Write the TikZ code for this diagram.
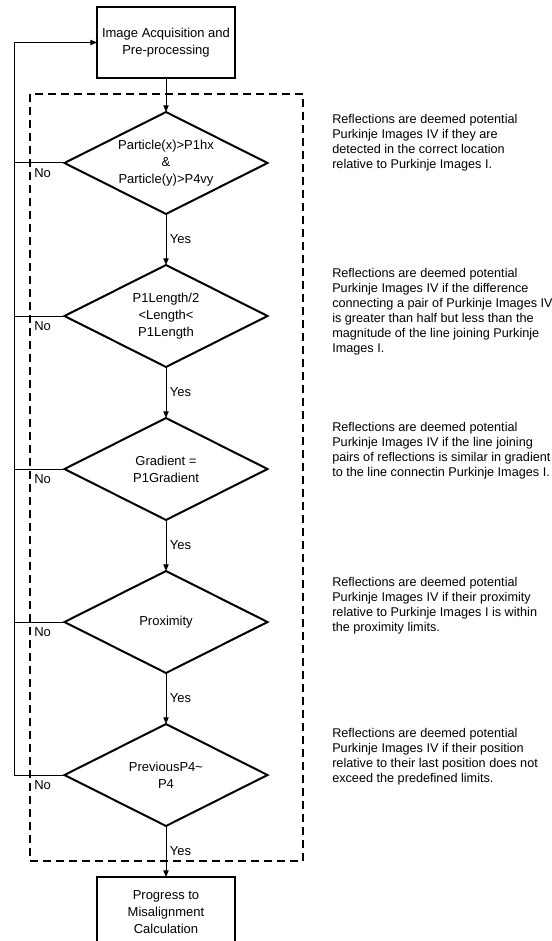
\documentclass[tikz,border=0pt]{standalone}
\usepackage{fontspec}
\setmainfont{Liberation Sans}
\usetikzlibrary{arrows.meta,positioning,calc,shapes.geometric}
\tikzset{
  procbox/.style={draw, line width=1.5pt, align=center, outer sep=0pt, inner sep=1pt,
    minimum width=103.5pt, minimum height=53.25pt, font=\fontsize{9.75}{12.75}\selectfont},
  testbox/.style={diamond, shape aspect=2, draw, line width=1.5pt, align=center, outer sep=0pt,
    inner sep=0pt, minimum width=152.25pt, minimum height=76.5pt,
    font=\fontsize{9.75}{12.75}\selectfont},
  note/.style={anchor=north west, align=left, inner sep=0pt,
    font=\fontsize{9.5}{11.25}\selectfont},
  yeslbl/.style={right, inner sep=2.5pt, font=\fontsize{9.75}{11}\selectfont},
  nolbl/.style={anchor=north west, inner sep=0pt, font=\fontsize{9.75}{11}\selectfont},
  link/.style={line width=0.75pt},
  flow/.style={line width=0.75pt, -{Triangle[length=5pt,width=4pt]}},
  dashframe/.style={line width=1.5pt, dash pattern=on 6pt off 3.75pt}
}
\begin{document}
\begin{tikzpicture}[x=0.75pt,y=-0.75pt]
  \useasboundingbox (0,0) rectangle (551,941);

  % checks on each candidate reflection
  \coordinate (fnw) at (30,94);
  \coordinate (fse) at (303,861);
  \draw[dashframe] (fnw) rectangle (fse);

  \node[procbox] (acq) at (166,42.5) {Image Acquisition and\\Pre-processing};
  \node[testbox] (t1) at (166,163) {Particle(x)>P1hx\\\&\\Particle(y)>P4vy};
  \node[testbox, below=38.25pt of t1] (t2) {P1Length/2\\<Length<\\P1Length};
  \node[testbox, below=38.25pt of t2] (t3) {Gradient =\\P1Gradient};
  \node[testbox, below=38.25pt of t3] (t4) {Proximity};
  \node[testbox, below=38.25pt of t4] (t5) {PreviousP4\textasciitilde\\P4};
  \node[procbox, below=38.25pt of t5] (misal) {Progress to\\Misalignment\\Calculation};

  \draw[flow] (acq) -- (t1);
  \foreach \a/\b in {t1/t2,t2/t3,t3/t4,t4/t5,t5/misal}
    \draw[flow] (\a) -- node[yeslbl] {Yes} (\b);

  % rejected reflections go back to the next frame
  \coordinate (back) at (14,0);
  \foreach \q in {t1,t2,t3,t4}
    \draw[link] (\q.west) -- (\q.west -| back);
  \draw[flow] (t5.west) -- (t5.west -| back) |- (acq.west);
  \foreach \q in {t1,t2,t3,t4,t5}
    \node[nolbl] at ($(\q.west -| fnw)+(4,5)$) {No};

  % explanations
  \node[note] (n1) at (332,114) {Reflections are deemed potential\\Purkinje Images IV if they are\\detected in the correct location\\relative to Purkinje Images I.};
  \node[note] (n2) at (332,268) {Reflections are deemed potential\\Purkinje Images IV if the difference\\connecting a pair of Purkinje Images IV\\is greater than half but less than the\\magnitude of the line joining Purkinje\\Images I.};
  \node[note] (n3) at (332,422) {Reflections are deemed potential\\Purkinje Images IV if the line joining\\pairs of reflections is similar in gradient\\to the line connectin Purkinje Images I.};
  \node[note] (n4) at (332,577) {Reflections are deemed potential\\Purkinje Images IV if their proximity\\relative to Purkinje Images I is within\\the proximity limits.};
  \node[note] (n5) at (332,728) {Reflections are deemed potential\\Purkinje Images IV if their position\\relative to their last position does not\\exceed the predefined limits.};
\end{tikzpicture}
\end{document}
